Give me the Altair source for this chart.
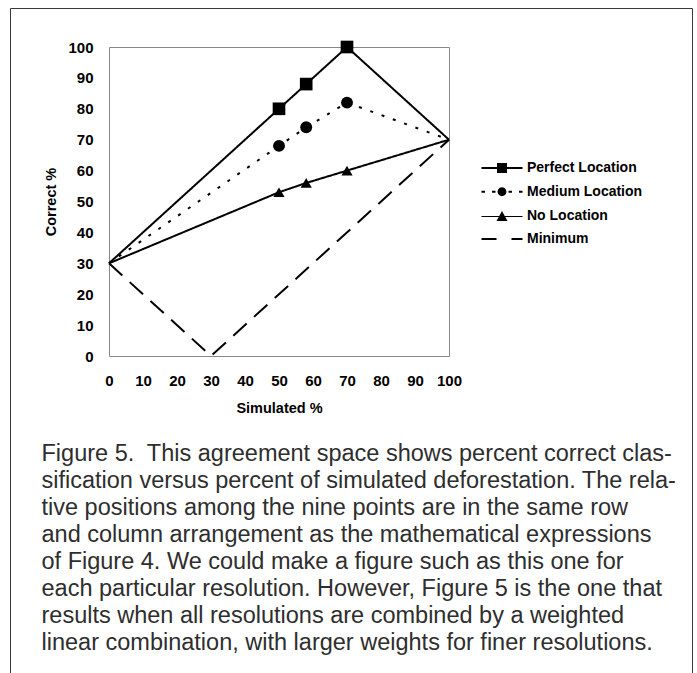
import altair as alt
import pandas as pd

# ---- data ----
series_names = ["Perfect Location", "Medium Location", "No Location", "Minimum"]
simulated = [0, 50, 58, 70, 100]
perfect = [30, 80, 88, 100, 70]
medium = [30, 68, 74, 82, 70]
no_loc = [30, 53, 56, 60, 70]
minimum_x = [0, 30, 100]
minimum_y = [30, 0, 70]
marker_index = [1, 2, 3]  # points that carry a marker
tick_values = [0, 10, 20, 30, 40, 50, 60, 70, 80, 90, 100]

caption_lines = [
    "Figure 5.\u00a0 This agreement space shows percent correct clas-",
    "sification versus percent of simulated deforestation. The rela-",
    "tive positions among the nine points are in the same row",
    "and column arrangement as the mathematical expressions",
    "of Figure 4. We could make a figure such as this one for",
    "each particular resolution. However, Figure 5 is the one that",
    "results when all resolutions are combined by a weighted",
    "linear combination, with larger weights for finer resolutions.",
]

rows = []
for name, ys in zip(series_names[:3], [perfect, medium, no_loc]):
    for i, (x, y) in enumerate(zip(simulated, ys)):
        rows.append({"series": name, "sim": x, "correct": y, "marker": i in marker_index})
for x, y in zip(minimum_x, minimum_y):
    rows.append({"series": "Minimum", "sim": x, "correct": y, "marker": False})
df = pd.DataFrame(rows)

FONT = "Liberation Sans"


def x_enc():
    return alt.X("sim:Q", title="Simulated %",
                 scale=alt.Scale(domain=[0, 100], nice=False),
                 axis=alt.Axis(values=tick_values, labelPadding=17, titlePadding=13,
                               labelOverlap=False, labelFlush=False, labelBound=False))


def y_enc():
    return alt.Y("correct:Q", title="Correct %",
                 scale=alt.Scale(domain=[0, 100], nice=False),
                 axis=alt.Axis(values=tick_values, labelPadding=16, titlePadding=9,
                               labelOverlap=False, labelFlush=False, labelBound=False))


lines = alt.Chart(df).mark_line(color="black").encode(
    x=x_enc(), y=y_enc(),
    detail="series:N",
    strokeDash=alt.StrokeDash("series:N", legend=None,
                              scale=alt.Scale(domain=series_names,
                                              range=[[1, 0], [3, 9], [1, 0], [18, 10]])),
    strokeWidth=alt.StrokeWidth("series:N", legend=None,
                                scale=alt.Scale(domain=series_names, range=[2, 2, 1, 2])),
)

points = alt.Chart(df).transform_filter("datum.marker").mark_point(
    filled=True, color="black", opacity=1
).encode(
    x=x_enc(), y=y_enc(),
    shape=alt.Shape("series:N", legend=None,
                    scale=alt.Scale(domain=series_names[:3],
                                    range=["square", "circle", "triangle-up"])),
    size=alt.Size("series:N", legend=None,
                  scale=alt.Scale(domain=series_names[:3], range=[160, 125, 160])),
)

# legend symbols: line segment with marker (unit = 5 px)
legend_paths = [
    "M-4.1,-0.2H4.1V0.2H-4.1Z M-1,-1H1V1H-1Z",
    "M-4.1,-0.2H-3.4V0.2H-4.1Z M-2,-0.2H-1.3V0.2H-2Z M1.3,-0.2H2V0.2H1.3Z M3.4,-0.2H4.1V0.2H3.4Z "
    "M0.9,0L0.78,0.45L0.45,0.78L0,0.9L-0.45,0.78L-0.78,0.45L-0.9,0L-0.78,-0.45L-0.45,-0.78L0,-0.9L0.45,-0.78L0.78,-0.45Z",
    "M-4.1,-0.1H4.1V0.1H-4.1Z M0,-1.1L1.1,0.9L-1.1,0.9Z",
    "M-4.1,-0.2H-1.1V0.2H-4.1Z M1.9,-0.2H4.1V0.2H1.9Z",
]

legend_layer = alt.Chart(df).transform_filter("false").mark_point(
    filled=True, color="black", opacity=1, size=100
).encode(
    x=x_enc(), y=y_enc(),
    shape=alt.Shape(
        "series:N",
        scale=alt.Scale(domain=series_names, range=legend_paths),
        legend=alt.Legend(
            orient="none", legendX=386, legendY=114, title=None,
            labelFont=FONT, labelFontWeight="bold", labelFontSize=14,
            labelColor="black", symbolSize=100, symbolOpacity=1,
            labelOffset=18, rowPadding=7.7, padding=0,
        ),
    ),
)

frame_df = pd.DataFrame({"k": [0]})
frame_left = alt.Chart(frame_df).mark_rule(color="#3a3a3a", strokeWidth=1).encode(
    x=alt.value(-98.5), y=alt.value(-38.5), y2=alt.value(640))
frame_right = alt.Chart(frame_df).mark_rule(color="#3a3a3a", strokeWidth=1).encode(
    x=alt.value(583.5), y=alt.value(-38.5), y2=alt.value(640))
frame_top = alt.Chart(frame_df).mark_rule(color="#3a3a3a", strokeWidth=1).encode(
    x=alt.value(-98.5), x2=alt.value(583.5), y=alt.value(-38.5))

caption = alt.Chart(frame_df).mark_text(
    text=caption_lines, align="left", baseline="alphabetic",
    lineHeight=27, fontSize=23.5, font=FONT, color="#2e2e2e",
).encode(x=alt.value(-67.5), y=alt.value(414))

chart = alt.layer(
    lines, points, legend_layer, frame_left, frame_right, frame_top, caption
).resolve_scale(
    shape="independent", size="independent"
).properties(
    width=340, height=309,
    padding={"left": 109, "top": 47, "right": 248, "bottom": 317},
    autosize=alt.AutoSizeParams(type="none"),
    background="white",
).configure_view(
    stroke="#888888", strokeWidth=1
).configure_axis(
    grid=False, domain=False, ticks=False, tickSize=0, labelOverlap=False,
    labelFont=FONT, labelFontWeight="bold", labelFontSize=15, labelColor="black",
    titleFont=FONT, titleFontWeight="bold", titleFontSize=14.5, titleColor="black",
)

chart.save("out.html", embed_options={"renderer": "svg", "actions": False})
